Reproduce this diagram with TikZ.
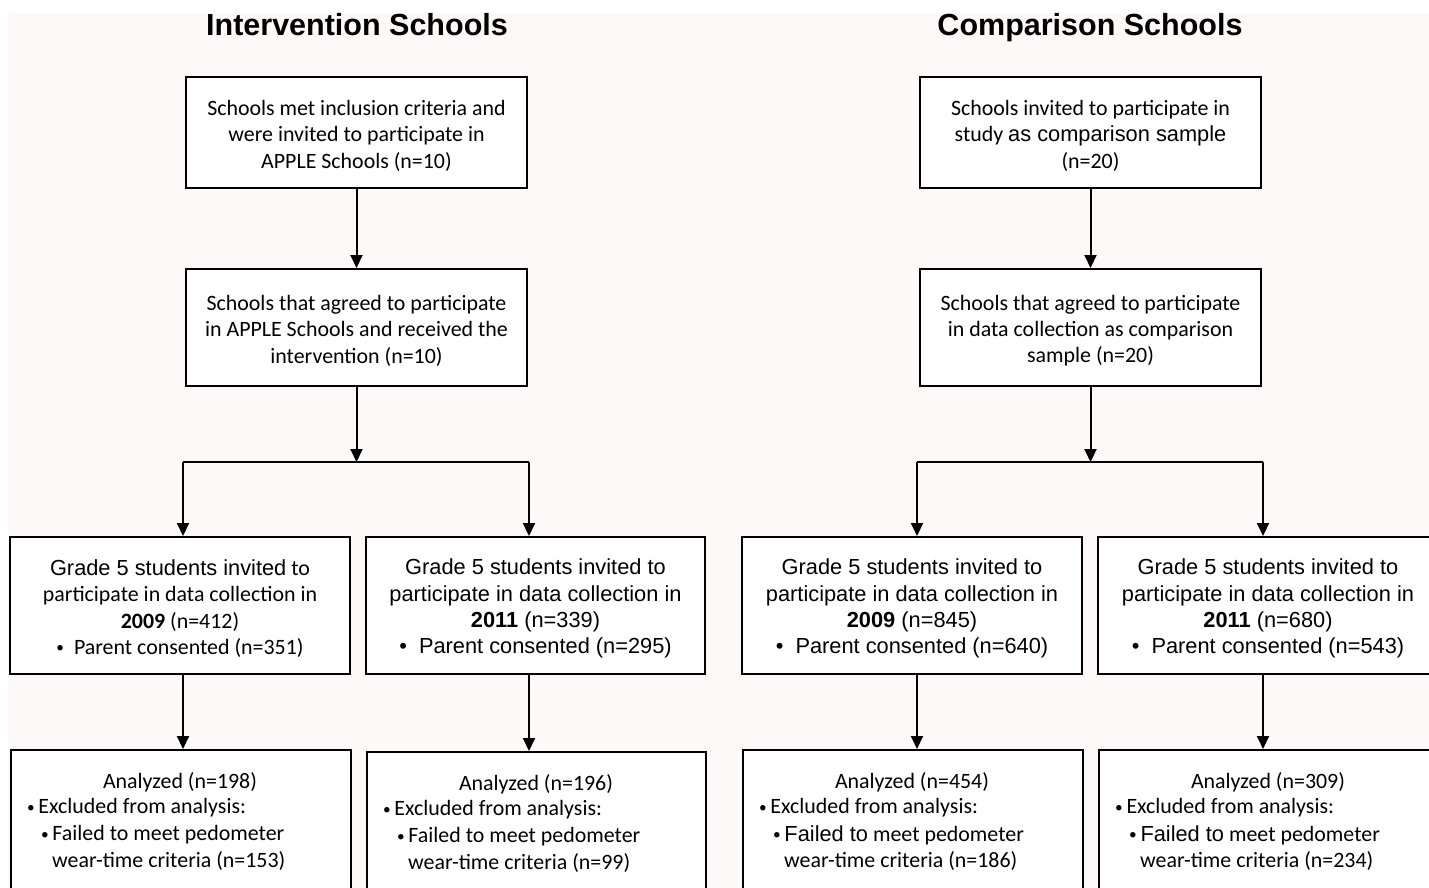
\documentclass[tikz,border=0pt]{standalone}
\usepackage{fontspec}
\usepackage{graphicx}
\setmainfont{Carlito}
\newfontfamily\arial{Liberation Sans}
\usetikzlibrary{arrows.meta}
\definecolor{bgpink}{HTML}{FDF9F9}
\newcommand{\af}{\arial\fontsize{21.8}{26.3}\selectfont}
\newcommand{\tstr}{\rule{0pt}{22pt}}
\newcommand{\sbul}{\raisebox{1.5pt}{\scalebox{0.7}{\textbullet}}}
\tikzset{
  box/.style={draw=black, line width=2pt, fill=white, inner sep=0pt, align=center,
    font=\fontsize{21.9}{26.2}\selectfont},
  arr/.style={line width=2pt, -{Triangle[width=12pt,length=13pt]}},
  ln/.style={line width=2pt},
  ttl/.style={font=\arial\bfseries\fontsize{30.5}{36}\selectfont, anchor=base},
  txt/.style={inner sep=0pt, font=\fontsize{21.9}{26}\selectfont},
}
\begin{document}
\begin{tikzpicture}[x=1pt,y=-1pt]
\useasboundingbox (0,0) rectangle (1429,888);
\clip (0,0) rectangle (1429,888);
\fill[white] (0,0) rectangle (1429,888);
\fill[bgpink] (8,13) rectangle (1440,900);

% titles
\node[ttl] (t1) at (357,36) {Intervention Schools};
\node[ttl] (t2) at (1090,36) {Comparison Schools};

% intervention top boxes
\node[box, minimum width=341pt, minimum height=111pt] (ia) at (356.5,132.5)
  {\tstr Schools met inclusion criteria and\\were invited to participate in\\APPLE Schools (n=10)};
\node[box, minimum width=341pt, minimum height=117pt] (ib) at (356.5,327.5)
  {\tstr Schools that agreed to participate\\in APPLE Schools and received the\\intervention (n=10)};

% comparison top boxes
\node[box, minimum width=341pt, minimum height=111pt] (ca) at (1090.5,132.5)
  {\tstr Schools invited to participate in\\study {\af as comparison sample}\\(n=20)};
\node[box, minimum width=341pt, minimum height=117pt] (cb) at (1090.5,327.5)
  {\tstr Schools that agreed to participate\\in data collection as comparison\\sample (n=20)};

% grade boxes
\node[box, minimum width=340pt, minimum height=137pt] (g1) at (180,605.5)
  {\tstr{\af Grade 5 students invited} to\\participate in data collection in\\\textbf{2009} (n=412)\\\sbul\ \ Parent consented (n=351)};
\node[box, minimum width=339pt, minimum height=137pt, font=\af] (g2) at (535.5,605.5)
  {\tstr Grade 5 students invited to\\participate in data collection in\\\textbf{2011} (n=339)\\\textbullet\ \ Parent consented (n=295)};
\node[box, minimum width=340pt, minimum height=137pt, font=\af] (g3) at (912,605.5)
  {\tstr Grade 5 students invited to\\participate in data collection in\\\textbf{2009} (n=845)\\\textbullet\ \ Parent consented (n=640)};
\node[box, minimum width=340pt, minimum height=137pt, font=\af] (g4) at (1268,605.5)
  {\tstr Grade 5 students invited to\\participate in data collection in\\\textbf{2011} (n=680)\\\textbullet\ \ Parent consented (n=543)};

% analyzed boxes
\node[box, minimum width=340pt, minimum height=150pt, anchor=north west] (a1) at (10,749) {};
\node[box, minimum width=339pt, minimum height=150pt, anchor=north west] (a2) at (366,751) {};
\node[box, minimum width=340pt, minimum height=150pt, anchor=north west] (a3) at (742,749) {};
\node[box, minimum width=340pt, minimum height=150pt, anchor=north west] (a4) at (1098,749) {};

\node[txt] (a1l1) at ([xshift=170pt,yshift=-33pt]a1.north west) {Analyzed (n=198)};
\node[txt, anchor=west] (a1l2) at ([xshift=17pt,yshift=-59pt]a1.north west) {\sbul\,Excluded from analysis:};
\node[txt, anchor=west] (a1l3) at ([xshift=31pt,yshift=-86pt]a1.north west) {\sbul\,Failed to meet pedometer};
\node[txt, anchor=west] (a1l4) at ([xshift=42pt,yshift=-112pt]a1.north west) {wear-time criteria (n=153)};

\node[txt] (a2l1) at ([xshift=170pt,yshift=-33pt]a2.north west) {Analyzed (n=196)};
\node[txt, anchor=west] (a2l2) at ([xshift=17pt,yshift=-59pt]a2.north west) {\sbul\,Excluded from analysis:};
\node[txt, anchor=west] (a2l3) at ([xshift=31pt,yshift=-86pt]a2.north west) {\sbul\,Failed to meet pedometer};
\node[txt, anchor=west] (a2l4) at ([xshift=42pt,yshift=-112pt]a2.north west) {wear-time criteria (n=99)};

\node[txt] (a3l1) at ([xshift=170pt,yshift=-33pt]a3.north west) {Analyzed (n=454)};
\node[txt, anchor=west] (a3l2) at ([xshift=17pt,yshift=-59pt]a3.north west) {\sbul\,Excluded from analysis:};
\node[txt, anchor=west] (a3l3) at ([xshift=31pt,yshift=-86pt]a3.north west) {\sbul\,{\af Failed to} meet pedometer};
\node[txt, anchor=west] (a3l4) at ([xshift=42pt,yshift=-112pt]a3.north west) {wear-time criteria (n=186)};

\node[txt] (a4l1) at ([xshift=170pt,yshift=-33pt]a4.north west) {Analyzed (n=309)};
\node[txt, anchor=west] (a4l2) at ([xshift=17pt,yshift=-59pt]a4.north west) {\sbul\,Excluded from analysis:};
\node[txt, anchor=west] (a4l3) at ([xshift=31pt,yshift=-86pt]a4.north west) {\sbul\,{\af Failed to} meet pedometer};
\node[txt, anchor=west] (a4l4) at ([xshift=42pt,yshift=-112pt]a4.north west) {wear-time criteria (n=234)};

% junction coordinates
\coordinate (ij) at (356.5,462);
\coordinate (ijl) at (183,462);
\coordinate (ijr) at (529,462);
\coordinate (cj) at (1090.5,462);
\coordinate (cjl) at (917,462);
\coordinate (cjr) at (1263,462);

% intervention connectors
\draw[arr] (ia.south) -- (ib.north);
\draw[arr] (ib.south) -- (ij);
\draw[ln] (ijl) -- (ijr);
\draw[arr] (ijl) -- (ijl |- g1.north);
\draw[arr] (ijr) -- (ijr |- g2.north);
\draw[arr] (ijl |- g1.south) -- (ijl |- a1.north);
\draw[arr] (ijr |- g2.south) -- (ijr |- a2.north);

% comparison connectors
\draw[arr] (ca.south) -- (cb.north);
\draw[arr] (cb.south) -- (cj);
\draw[ln] (cjl) -- (cjr);
\draw[arr] (cjl) -- (cjl |- g3.north);
\draw[arr] (cjr) -- (cjr |- g4.north);
\draw[arr] (cjl |- g3.south) -- (cjl |- a3.north);
\draw[arr] (cjr |- g4.south) -- (cjr |- a4.north);
\end{tikzpicture}
\end{document}
